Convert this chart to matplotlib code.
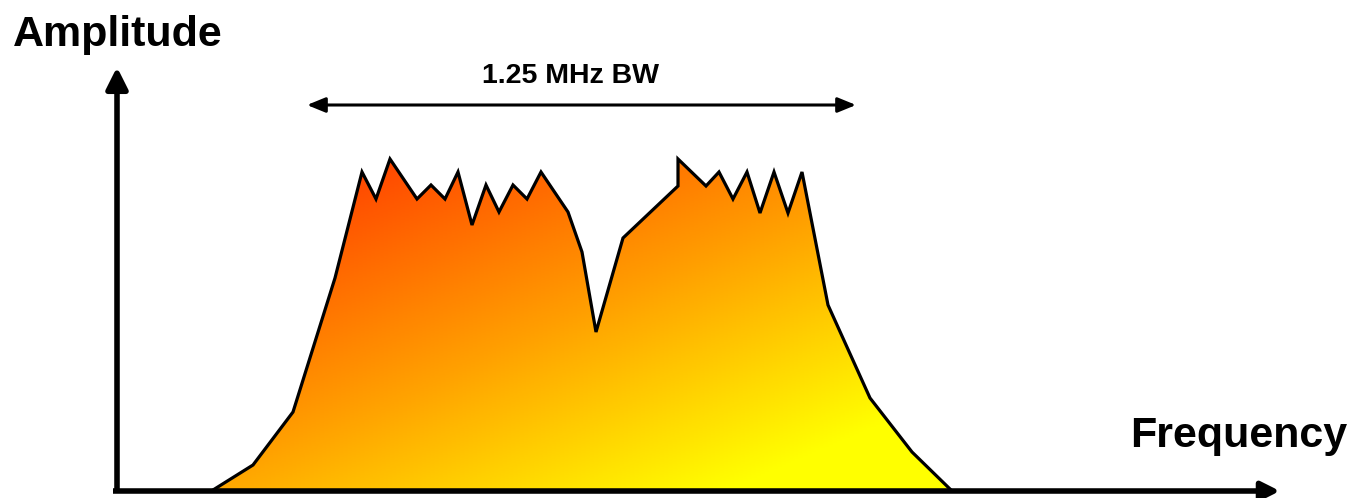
import numpy as np
import matplotlib.pyplot as plt
from matplotlib.patches import Polygon, FancyArrowPatch
from matplotlib.colors import LinearSegmentedColormap

plt.rcParams['font.family'] = ['Liberation Sans', 'DejaVu Sans']

# spectrum outline (frequency in px units, amplitude above the baseline)
freq = [213, 253, 293, 335, 362, 376, 390, 417, 431, 445, 458, 472, 486, 499,
        513, 527, 541, 568, 582, 596, 623, 678, 678, 706, 719, 733, 747, 760,
        774, 788, 802, 828, 870, 912, 951]
amp = [0, 25, 78, 212, 318, 291, 331, 291, 305, 291, 318, 265, 305, 278,
       305, 291, 318, 278, 238, 158, 252, 304, 331, 304, 318, 291, 318, 277,
       318, 277, 318, 185, 92, 38, 0]

bw_label = '1.25 MHz BW'
x_label = 'Frequency'
y_label = 'Amplitude'

fig = plt.figure(figsize=(13.55, 4.98), dpi=100)
ax = fig.add_axes([0, 0, 1, 1])
ax.set_xlim(0, 1355)
ax.set_ylim(-8, 490)
ax.axis('off')

# gradient fill clipped to the spectrum shape
gx, gy = np.meshgrid(np.linspace(150, 1000, 400), np.linspace(-5, 360, 200))
t = 0.0009 * (gx - 390) + 0.0021 * (331 - gy)
cmap = LinearSegmentedColormap.from_list('sp', ['#ff4800', '#ffa000', '#ffff00'])
img = ax.imshow(t, cmap=cmap, vmin=0, vmax=1, origin='lower',
                extent=[150, 1000, -5, 360], aspect='auto', zorder=1)
poly = Polygon(np.column_stack([freq, amp]), closed=True, facecolor='none',
               edgecolor='none')
ax.add_patch(poly)
img.set_clip_path(poly)
ax.plot(freq, amp, color='black', lw=2.3, solid_joinstyle='miter', zorder=3)

# axes with arrow heads
ax.add_patch(FancyArrowPatch((117, -3), (117, 423), arrowstyle='-|>,head_length=13,head_width=6.5',
                             mutation_scale=1, lw=4, color='black', shrinkA=0, shrinkB=0,
                             capstyle='butt', zorder=4))
ax.add_patch(FancyArrowPatch((113, -1), (1280, -1), arrowstyle='-|>,head_length=11,head_width=5.5',
                             mutation_scale=1, lw=4, color='black', shrinkA=0, shrinkB=0,
                             capstyle='butt', zorder=4))

# bandwidth marker
ax.add_patch(FancyArrowPatch((307, 385), (856, 385), arrowstyle='<|-|>,head_length=11,head_width=4.5',
                             mutation_scale=1, lw=2.2, color='black', shrinkA=0, shrinkB=0, zorder=4))
ax.text(570, 407, bw_label, ha='center', va='baseline', fontsize=20.5, fontweight='bold')

ax.text(13, 444, y_label, ha='left', va='baseline', fontsize=31, fontweight='bold')
ax.text(1347, 43, x_label, ha='right', va='baseline', fontsize=31, fontweight='bold')

fig.savefig('out.png', dpi=100)
